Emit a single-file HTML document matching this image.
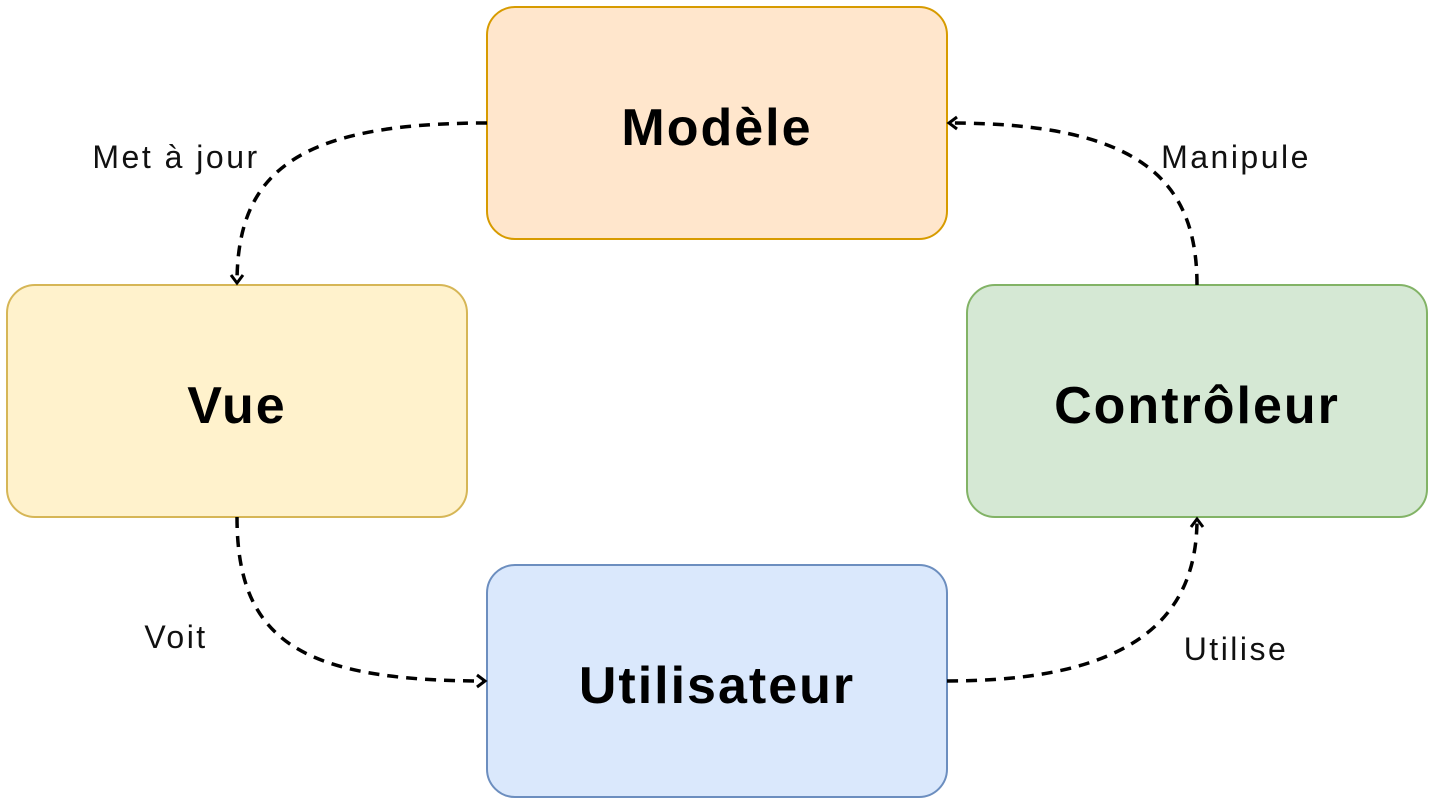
<!DOCTYPE html>
<html><head><meta charset="utf-8"><style>
html,body{margin:0;padding:0;background:#fff;width:1436px;height:804px;overflow:hidden}
</style></head><body>
<svg width="1436" height="804" viewBox="0 0 1436 804" xmlns="http://www.w3.org/2000/svg">
<defs>
<marker id="a" markerWidth="16" markerHeight="16" refX="12" refY="8" orient="auto" markerUnits="userSpaceOnUse">
<path d="M4,2 L12,8 L4,14" fill="none" stroke="#000" stroke-width="3"/>
</marker>
</defs>
<rect x="487" y="7" width="460" height="232" rx="28" fill="#ffe6cc" stroke="#d79b00" stroke-width="2"/>
<rect x="7" y="285" width="460" height="232" rx="28" fill="#fff2cc" stroke="#d6b656" stroke-width="2"/>
<rect x="967" y="285" width="460" height="232" rx="28" fill="#d5e8d4" stroke="#82b366" stroke-width="2"/>
<rect x="487" y="565" width="460" height="232" rx="28" fill="#dae8fc" stroke="#6c8ebf" stroke-width="2"/>
<g fill="none" stroke="#000" stroke-width="3.5" stroke-dasharray="11,8">
<path d="M487,123 C300,123 237,170 237,283" marker-end="url(#a)"/>
<path d="M237,517 C237,640 300,681 485,681" marker-end="url(#a)"/>
<path d="M947,681 C1130,681 1197,620 1197,519" marker-end="url(#a)"/>
<path d="M1197,285 C1197,180 1140,123 949,123" marker-end="url(#a)"/>
</g>
<g font-family="Liberation Sans, sans-serif" font-weight="bold" font-size="52" text-anchor="middle" fill="#000" letter-spacing="2">
<text x="717" y="145">Modèle</text>
<text x="237" y="423">Vue</text>
<text x="1197" y="423">Contrôleur</text>
<text x="717" y="703">Utilisateur</text>
</g>
<g font-family="Liberation Sans, sans-serif" font-size="32" text-anchor="middle" fill="#111" letter-spacing="2.5">
<text x="176" y="168">Met à jour</text>
<text x="1236" y="168">Manipule</text>
<text x="176" y="648">Voit</text>
<text x="1236" y="660">Utilise</text>
</g>
</svg>
</body></html>
